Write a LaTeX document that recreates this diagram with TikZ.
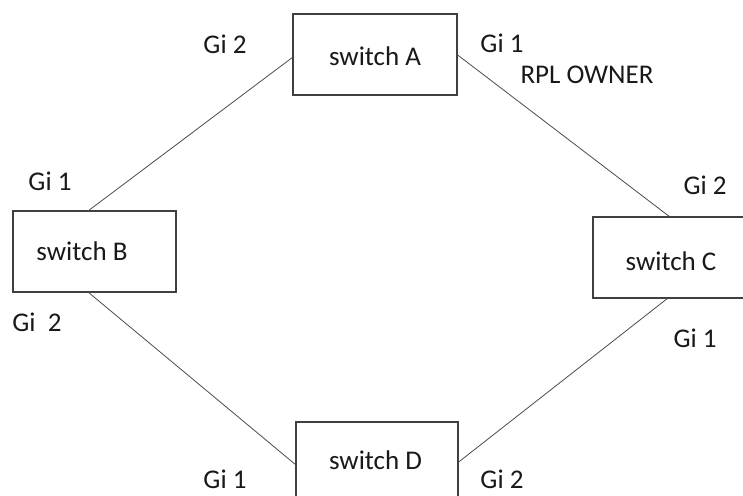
\documentclass[tikz,border=0pt]{standalone}
\usepackage{fontspec}
\setmainfont{Carlito}
\begin{document}
\begin{tikzpicture}[x=1pt,y=-1pt,
 box/.style={draw=black!75, line width=1.1pt, fill=white, inner sep=0pt, outer sep=0pt},
 link/.style={draw=black!70, line width=0.8pt},
 lbl/.style={font=\fontsize{27}{30}\selectfont, text=black!90, inner sep=0pt},
]
\useasboundingbox (0,0) rectangle (743,495);
\clip (0,0) rectangle (743,495);
\fill[white] (0,0) rectangle (743,495);
% switch boxes
\node[box, minimum width=164pt, minimum height=81pt] (A) at (375,54.5) {};
\node[box, minimum width=163pt, minimum height=81pt] (B) at (94.5,251.5) {};
\node[box, minimum width=167pt, minimum height=81pt] (C) at (676.5,257.5) {};
\node[box, minimum width=162pt, minimum height=81pt] (D) at (377,462.5) {};
% box texts
\node[lbl] (tA) at (375,56) {switch A};
\node[lbl] (tB) at (82,251) {switch B};
\node[lbl] (tC) at (671,261) {switch C};
\node[lbl] (tD) at (375.5,460) {switch D};
% links
\draw[link] ([yshift=-2.5pt]A.west) -- ([xshift=-6.5pt]B.north);
\draw[link] (A.east) -- ([xshift=-6.5pt]C.north);
\draw[link] ([xshift=-6.5pt]B.south) -- ([yshift=-2.5pt]D.west);
\draw[link] (D.east) -- ([xshift=-8.5pt]C.south);
% port labels
\node[lbl] (pA2) at (225,44) {Gi 2};
\node[lbl] (pA1) at (502,43) {Gi 1};
\node[lbl] (rpl) at (587,75) {RPL OWNER};
\node[lbl] (pB1) at (50,181) {Gi 1};
\node[lbl] (pC2) at (705,185) {Gi 2};
\node[lbl] (pB2) at (37,322) {Gi\ \ 2};
\node[lbl] (pC1) at (695,338) {Gi 1};
\node[lbl] (pD1) at (225,479) {Gi 1};
\node[lbl] (pD2) at (502,479) {Gi 2};
\end{tikzpicture}
\end{document}
